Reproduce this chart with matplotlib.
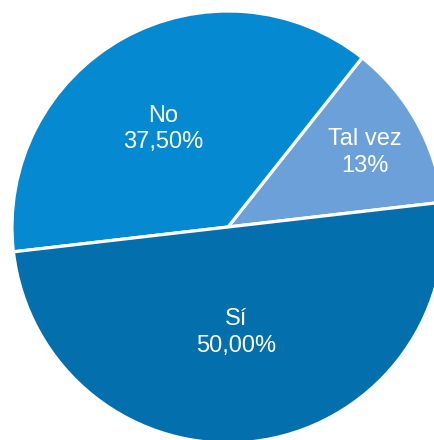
import matplotlib
matplotlib.use("Agg")
import matplotlib.pyplot as plt
import numpy as np

categories = ["Tal vez", "No", "Sí"]
values = [12.5, 37.5, 50.0]
pct_labels = ["13%", "37,50%", "50,00%"]
colors = ["#6CA0D8", "#0589D1", "#036FAD"]
label_radius = [0.72, 0.545, 0.49]
label_angle_shift = [-0.5, 4.5, -2.0]

plt.rcParams['font.family'] = ['Liberation Sans', 'DejaVu Sans']

W, H = 435, 440
fig = plt.figure(figsize=(W / 100, H / 100), dpi=100)
cx, cy, R = 228, 227, 216
ax = fig.add_axes([(cx - R) / W, (H - cy - R) / H, 2 * R / W, 2 * R / H])
wedges, _ = ax.pie(values, colors=colors, startangle=6.6, counterclock=True,
                   radius=1.0, center=(0, 0),
                   wedgeprops=dict(edgecolor="white", linewidth=2.3))
ax.set_xlim(-1, 1)
ax.set_ylim(-1, 1)
ax.set_aspect("equal")
ax.axis("off")

for w, cat, pct, r, sh in zip(wedges, categories, pct_labels, label_radius, label_angle_shift):
    ang = np.deg2rad((w.theta1 + w.theta2) / 2 + sh)
    ax.text(r * np.cos(ang), r * np.sin(ang), f"{cat}\n{pct}", ha="center", va="center",
            color="white", fontsize=17, linespacing=1.25)

fig.savefig("out.png", dpi=100)
